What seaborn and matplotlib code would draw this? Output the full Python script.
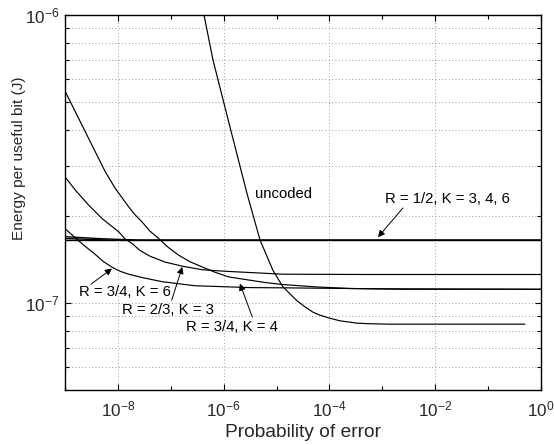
import numpy as np
import pandas as pd
import matplotlib
matplotlib.use("Agg")
import matplotlib.pyplot as plt
from matplotlib.ticker import FixedLocator, LogFormatterSciNotation, NullFormatter
import seaborn as sns

# ---------------- data ----------------
uncoded_x = [4.25e-7, 6.28e-7, 1.32e-6, 2.75e-6, 4.85e-6, 8.55e-6, 1.32e-5,
             2.43e-5, 3.44e-5, 4.88e-5, 6.61e-5, 1.02e-4, 1.58e-4, 3.31e-4,
             5.83e-4, 1.39e-3, 4.97e-1]
uncoded_y = [1.00e-6, 6.98e-7, 4.08e-7, 2.41e-7, 1.66e-7, 1.30e-7, 1.14e-7,
             1.02e-7, 9.72e-8, 9.31e-8, 9.09e-8, 8.87e-8, 8.69e-8, 8.53e-8,
             8.49e-8, 8.46e-8, 8.46e-8]

r34k4_x = [1.0e-9, 1.57e-9, 2.42e-9, 3.74e-9, 5.78e-9, 8.93e-9, 1.60e-8, 2.10e-8,
           2.86e-8, 4.05e-8, 5.90e-8, 8.85e-8, 1.41e-7, 2.31e-7, 3.89e-7, 6.85e-7,
           1.24e-6, 2.03e-6, 3.14e-6, 6.03e-6, 1.32e-5, 5.73e-5, 2.44e-4, 2.15e-3, 1.0]
r34k4_y = [5.445e-7, 4.615e-7, 3.934e-7, 3.352e-7, 2.857e-7, 2.502e-7, 2.160e-7,
           2.029e-7, 1.915e-7, 1.778e-7, 1.678e-7, 1.565e-7, 1.468e-7, 1.393e-7,
           1.337e-7, 1.281e-7, 1.234e-7, 1.217e-7, 1.202e-7, 1.180e-7, 1.161e-7,
           1.139e-7, 1.125e-7, 1.118e-7, 1.118e-7]

r23k3_x = [1.0e-9, 1.57e-9, 2.81e-9, 5.00e-9, 1.04e-8, 1.38e-8, 1.85e-8, 2.62e-8,
           4.05e-8, 7.76e-8, 1.63e-7, 3.89e-7, 1.06e-6, 3.14e-6, 1.32e-5, 5.83e-4, 1.0]
r23k3_y = [2.745e-7, 2.468e-7, 2.189e-7, 1.968e-7, 1.768e-7, 1.668e-7, 1.612e-7,
           1.524e-7, 1.456e-7, 1.390e-7, 1.345e-7, 1.307e-7, 1.291e-7, 1.278e-7,
           1.261e-7, 1.258e-7, 1.258e-7]

r34k6_x = [1.0e-9, 1.55e-9, 2.39e-9, 3.69e-9, 5.23e-9, 7.73e-9, 1.10e-8, 1.60e-8,
           2.98e-8, 6.82e-8, 2.86e-7, 3.14e-6, 1.32e-5, 5.83e-4, 1.0]
r34k6_y = [1.817e-7, 1.688e-7, 1.577e-7, 1.480e-7, 1.398e-7, 1.334e-7, 1.291e-7,
           1.261e-7, 1.226e-7, 1.188e-7, 1.150e-7, 1.133e-7, 1.131e-7, 1.123e-7,
           1.118e-7]

r12_x = [[1.0e-9, 4.59e-9, 2.62e-8, 1.0], [1.0e-9, 7.10e-9, 1.0], [1.0e-9, 1.0]]
r12_y = [[1.702e-7, 1.675e-7, 1.655e-7, 1.655e-7], [1.677e-7, 1.655e-7, 1.655e-7],
         [1.655e-7, 1.655e-7]]

x_major = [1e-8, 1e-6, 1e-4, 1e-2, 1e0]
x_minor = [1e-9, 1e-7, 1e-5, 1e-3, 1e-1]
y_major = [1e-7, 1e-6]
y_minor = [6e-8, 7e-8, 8e-8, 9e-8, 2e-7, 3e-7, 4e-7, 5e-7, 6e-7, 7e-7, 8e-7, 9e-7]

# annotations: label, text position, arrow start, arrow tip
ann_labels = ["R = 1/2, K = 3, 4, 6", "R = 3/4, K = 6", "R = 2/3, K = 3", "R = 3/4, K = 4"]
ann_text_xy = [(1.12e-3, 2.30e-7), (1.84e-9, 1.096e-7), (1.21e-8, 9.48e-8), (1.91e-7, 8.29e-8)]
ann_from_xy = [(2.45e-3, 2.14e-7), (3.10e-9, 1.164e-7), (1.04e-7, 1.024e-7), (3.48e-6, 8.96e-8)]
ann_tip_xy = [(8.26e-4, 1.695e-7), (7.73e-9, 1.319e-7), (1.65e-7, 1.337e-7), (2.03e-6, 1.170e-7)]
uncoded_label_xy = (3.91e-6, 2.39e-7)

# ---------------- style ----------------
sns.set_style("ticks")
plt.rcParams["font.family"] = ["Liberation Sans", "DejaVu Sans"]
plt.rcParams["mathtext.fontset"] = "custom"
plt.rcParams["mathtext.rm"] = "Liberation Sans"
plt.rcParams["mathtext.it"] = "Liberation Sans:italic"
plt.rcParams["mathtext.bf"] = "Liberation Sans:bold"

fig = plt.figure(figsize=(5.54, 4.45), dpi=100)
ax = fig.add_axes([65 / 554, 55 / 445, 476 / 554, 375 / 445])

lw = 0.85
def draw(xs, ys, width=lw):
    df = pd.DataFrame({"x": xs, "y": ys})
    sns.lineplot(data=df, x="x", y="y", ax=ax, color="black", linewidth=width,
                 estimator=None, sort=False, legend=False)

draw(uncoded_x, uncoded_y)
draw(r34k4_x, r34k4_y)
draw(r23k3_x, r23k3_y)
draw(r34k6_x, r34k6_y)
for xs, ys in zip(r12_x, r12_y):
    draw(xs, ys, width=1.0)

ax.set_xscale("log")
ax.set_yscale("log")
ax.set_xlim(1e-9, 1)
ax.set_ylim(5e-8, 1e-6)

ax.xaxis.set_major_locator(FixedLocator(x_major))
ax.xaxis.set_minor_locator(FixedLocator(x_minor))
ax.xaxis.set_major_formatter(LogFormatterSciNotation())
ax.xaxis.set_minor_formatter(NullFormatter())
ax.yaxis.set_major_locator(FixedLocator(y_major))
ax.yaxis.set_minor_locator(FixedLocator(y_minor))
ax.yaxis.set_major_formatter(LogFormatterSciNotation())
ax.yaxis.set_minor_formatter(NullFormatter())

ax.tick_params(which="both", direction="in", top=True, right=True, color="black",
               width=0.8)
ax.tick_params(which="major", length=4, labelsize=12.3, pad=7)
ax.tick_params(which="minor", length=3)
ax.tick_params(axis="y", which="major", pad=4)

grid_kw = dict(color="#7f7f7f", linestyle=(0, (1, 3)), linewidth=0.6)
ax.xaxis.grid(True, which="major", **grid_kw)
ax.yaxis.grid(True, which="both", **grid_kw)
ax.set_axisbelow(True)

for s in ax.spines.values():
    s.set_color("black")
    s.set_linewidth(1.0)

ax.set_xlabel("Probability of error", fontsize=13.8)
ax.set_ylabel("Energy per useful bit (J)", fontsize=11.1)
ax.xaxis.set_label_coords(0.5, -0.09)
ax.yaxis.label.set_va("center")
ax.yaxis.set_label_coords(-0.096, 0.619)

for lab, txy, fxy, pxy in zip(ann_labels, ann_text_xy, ann_from_xy, ann_tip_xy):
    ax.text(txy[0], txy[1], lab, fontsize=10.7, ha="left", va="center", color="black")
    ax.annotate("", xy=pxy, xytext=fxy,
                arrowprops=dict(arrowstyle="-|>", color="black", lw=0.7,
                                mutation_scale=10, shrinkA=0, shrinkB=0))
ax.text(uncoded_label_xy[0], uncoded_label_xy[1], "uncoded", fontsize=10.7,
        ha="left", va="center", color="black")

fig.savefig("out.png", dpi=100)
